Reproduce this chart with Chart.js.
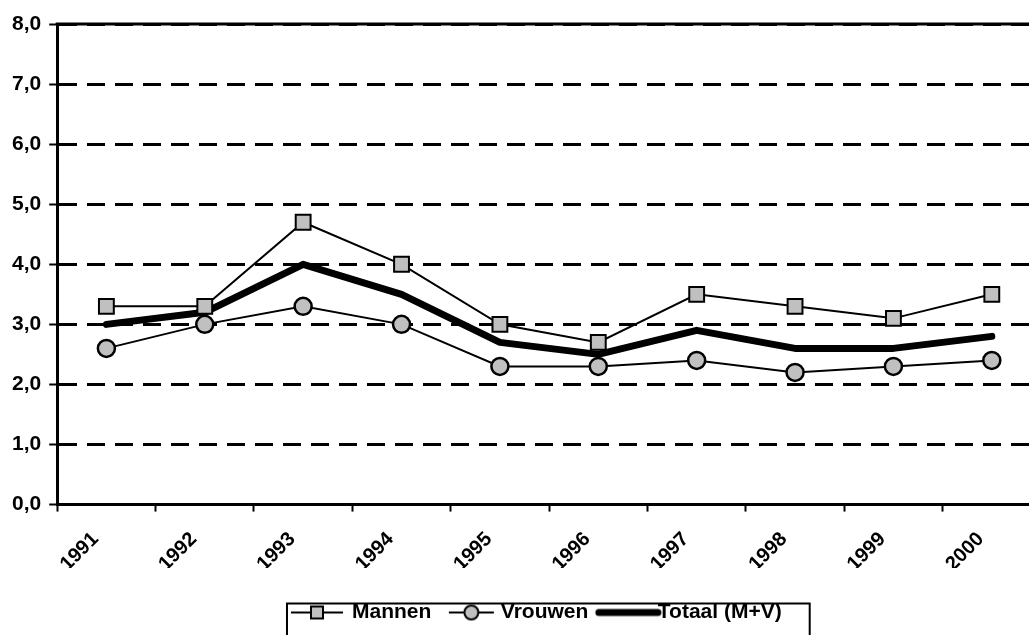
<!DOCTYPE html>
<html>
<head>
<meta charset="utf-8">
<script src="https://cdn.jsdelivr.net/npm/chart.js@4/dist/chart.umd.min.js"></script>
<style>
  html, body { margin: 0; padding: 0; background: #fff; overflow: hidden; }
  #wrap { width: 1060px; height: 635px; }
</style>
</head>
<body>
<div id="wrap"><canvas id="chart"></canvas></div>
<script>
const years = ['1991', '1992', '1993', '1994', '1995', '1996', '1997', '1998', '1999', '2000'];
const mannen = [3.3, 3.3, 4.7, 4.0, 3.0, 2.7, 3.5, 3.3, 3.1, 3.5];
const vrouwen = [2.6, 3.0, 3.3, 3.0, 2.3, 2.3, 2.4, 2.2, 2.3, 2.4];
const totaal = [3.0, 3.2, 4.0, 3.5, 2.7, 2.5, 2.9, 2.6, 2.6, 2.8];
const yTickLabels = ['0,0', '1,0', '2,0', '3,0', '4,0', '5,0', '6,0', '7,0', '8,0'];

const FONT = 'Arial, "Liberation Sans", sans-serif';
const GREY = '#c0c0c0';
const LEGEND_SIZE = 21;
const BOX_W = 25;
const ICON_W = 180;
// x inside the icon canvas where the legend text starts
const TEXT_X = ICON_W / 2 + BOX_W / 2 + LEGEND_SIZE / 2;

// legend icon: line with marker, ending `gap` px before the text
function icon(len, gap, draw) {
    const c = document.createElement('canvas');
    c.width = ICON_W;
    c.height = 22;
    const g = c.getContext('2d');
    g.strokeStyle = '#000';
    g.fillStyle = GREY;
    const x1 = TEXT_X - gap;
    draw(g, x1 - len, x1, 11);
    return c;
}

const icons = [
    icon(52, 9, (g, a, b, m) => {
        g.lineWidth = 2;
        g.beginPath(); g.moveTo(a, m); g.lineTo(b, m); g.stroke();
        const c = (a + b) / 2;
        g.fillRect(c - 6, m - 6, 12, 12);
        g.strokeRect(c - 6, m - 6, 12, 12);
    }),
    icon(45, 7, (g, a, b, m) => {
        g.lineWidth = 2;
        g.beginPath(); g.moveTo(a, m); g.lineTo(b, m); g.stroke();
        g.beginPath(); g.arc((a + b) / 2, m, 7, 0, Math.PI * 2); g.fill(); g.stroke();
    }),
    icon(62, 0, (g, a, b, m) => {
        g.lineWidth = 7;
        g.lineCap = 'round';
        g.beginPath(); g.moveTo(a + 3, m); g.lineTo(b, m); g.stroke();
    })
];

const framePlugin = {
    id: 'frame',
    afterDraw(chart) {
        const { ctx, chartArea } = chart;
        ctx.save();
        ctx.strokeStyle = '#000';
        ctx.lineWidth = 3;
        ctx.beginPath();
        ctx.moveTo(chartArea.left - 1.5, chartArea.top);
        ctx.lineTo(chartArea.right, chartArea.top);
        ctx.stroke();

        // border round the legend
        const boxes = chart.legend.legendHitBoxes;
        const first = boxes[0];
        const last = boxes[boxes.length - 1];
        const l = first.left + BOX_W + LEGEND_SIZE / 2 - 65;
        const r = last.left + last.width + 28;
        const t = first.top + 1.5;
        ctx.lineWidth = 2;
        ctx.strokeRect(l, t, r - l, chart.height - t + 5);
        ctx.restore();
    }
};

new Chart(document.getElementById('chart'), {
    type: 'line',
    data: {
        labels: years,
        datasets: [
            {
                label: 'Mannen',
                data: mannen,
                borderColor: '#000',
                borderWidth: 2,
                pointStyle: 'rect',
                pointRadius: 10.5,
                pointBorderWidth: 2,
                pointBackgroundColor: GREY,
                pointBorderColor: '#000',
                tension: 0
            },
            {
                label: 'Vrouwen',
                data: vrouwen,
                borderColor: '#000',
                borderWidth: 2,
                pointStyle: 'circle',
                pointRadius: 8.5,
                pointBorderWidth: 2.5,
                pointBackgroundColor: GREY,
                pointBorderColor: '#000',
                tension: 0
            },
            {
                label: 'Totaal (M+V)',
                data: totaal,
                borderColor: '#000',
                borderWidth: 7,
                borderCapStyle: 'round',
                borderJoinStyle: 'round',
                pointRadius: 0,
                tension: 0
            }
        ]
    },
    options: {
        responsive: true,
        maintainAspectRatio: false,
        animation: false,
        layout: { padding: { top: 24, right: 19, bottom: 2, left: 4 } },
        plugins: {
            tooltip: { enabled: false },
            legend: {
                position: 'bottom',
                fullSize: false,
                labels: {
                    usePointStyle: true,
                    pointStyleWidth: BOX_W,
                    padding: 34,
                    color: '#000',
                    font: { family: FONT, size: LEGEND_SIZE, weight: 'bold' },
                    generateLabels: chart => chart.data.datasets.map((ds, i) => ({
                        text: ds.label,
                        pointStyle: icons[i],
                        datasetIndex: i,
                        fontColor: '#000',
                        fillStyle: 'transparent',
                        strokeStyle: 'transparent',
                        lineWidth: 0,
                        hidden: false
                    }))
                }
            }
        },
        scales: {
            x: {
                offset: true,
                afterFit: scale => { scale.height -= 24; },
                grid: {
                    offset: true,
                    drawOnChartArea: false,
                    drawTicks: true,
                    tickLength: 7,
                    tickWidth: 2,
                    tickColor: '#000'
                },
                border: { display: true, color: '#000', width: 3 },
                ticks: {
                    color: '#000',
                    minRotation: 45,
                    maxRotation: 45,
                    padding: 16,
                    labelOffset: -11,
                    font: { family: FONT, size: 20, weight: 'bold' }
                }
            },
            y: {
                min: 0,
                max: 8,
                grid: {
                    color: '#000',
                    lineWidth: 3,
                    drawTicks: true,
                    tickLength: 8,
                    tickWidth: 2,
                    tickColor: '#000'
                },
                border: { display: true, color: '#000', width: 3, dash: [18, 10] },
                ticks: {
                    stepSize: 1,
                    color: '#000',
                    padding: 8,
                    font: { family: FONT, size: 21, weight: 'bold' },
                    callback: (v, i) => yTickLabels[i]
                }
            }
        }
    },
    plugins: [framePlugin]
});
</script>
</body>
</html>
